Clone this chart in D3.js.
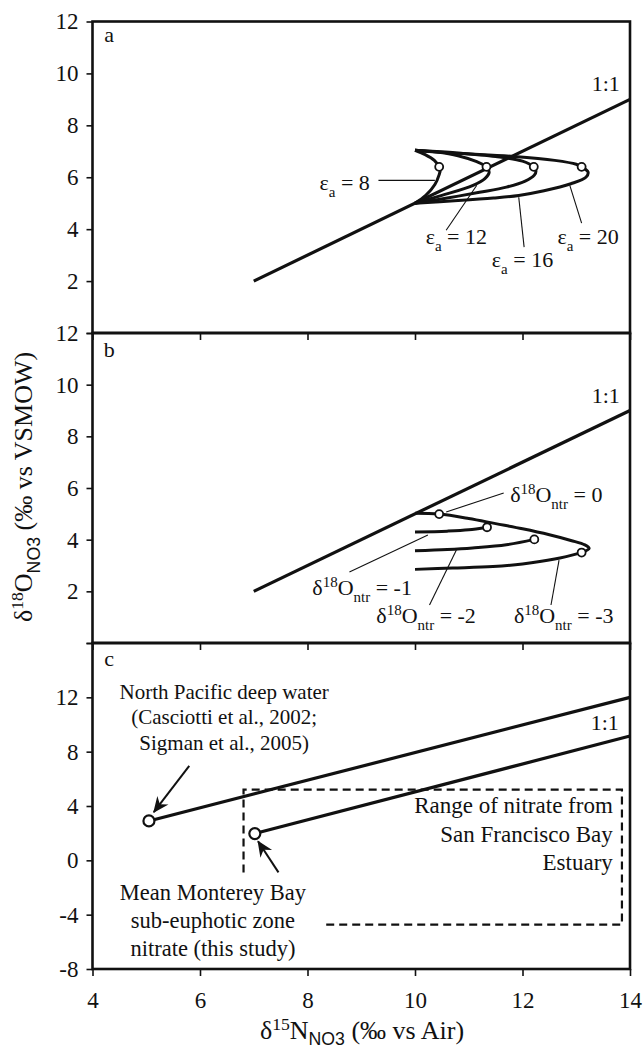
<!DOCTYPE html>
<html>
<head>
<meta charset="utf-8">
<script src="https://cdn.jsdelivr.net/npm/d3@7"></script>
<style>
  body { margin: 0; background: #fff; }
  svg text { font-family: 'Liberation Serif', 'Times New Roman'; fill: #111; }
</style>
</head>
<body>
<div id="chart"></div>
<script>
'use strict';

// ---- data ----
var xTicks = [4, 6, 8, 10, 12, 14];
var yTicksAB = [0, 2, 4, 6, 8, 10, 12];
var yLabelsAB = [2, 4, 6, 8, 10, 12];
var yTicksC = [-8, -4, 0, 4, 8, 12, 16];
var yLabelsC = [-8, -4, 0, 4, 8, 12];

// panel a : assimilation curves for different eps_a
var lineA = [[7, 2], [14, 9]];
var eps8 = [[10, 5], [10.2, 5.3], [10.37, 5.72], [10.45, 6.1], [10.47, 6.3], [10.45, 6.4], [10.36, 6.65], [10.18, 6.88], [10, 7.04]];
var eps12 = [[10, 5], [10.5, 5.3], [11.08, 5.69], [11.3, 5.95], [11.38, 6.2], [11.33, 6.4], [11.15, 6.6], [10.8, 6.83], [10.4, 6.97], [10, 7.04]];
var eps16 = [[10, 5], [10.6, 5.2], [11.2, 5.42], [11.7, 5.62], [12.05, 5.85], [12.22, 6.08], [12.25, 6.25], [12.21, 6.4], [12.0, 6.62], [11.5, 6.8], [10.7, 6.95], [10, 7.04]];
var eps20 = [[10, 5], [10.8, 5.1], [11.46, 5.2], [11.93, 5.3], [12.4, 5.48], [12.9, 5.75], [13.18, 6.0], [13.22, 6.2], [13.1, 6.4], [13.0, 6.5], [12.6, 6.65], [11.84, 6.8], [10.69, 6.93], [10, 7.04]];
var circlesA = [[10.45, 6.4], [11.33, 6.4], [12.21, 6.4], [13.1, 6.4]];

// panel b : different d18O of nitrified nitrate
var lineB = [[7, 2], [14, 9]];
var ntr0 = [[10, 5.02], [10.45, 4.99], [11.0, 4.82], [11.5, 4.62], [12.0, 4.42], [12.5, 4.19], [12.9, 3.97], [13.16, 3.8], [13.24, 3.66], [13.1, 3.5]];
var ntr1 = [[10, 4.3], [10.6, 4.33], [11.0, 4.38], [11.34, 4.48]];
var ntr2 = [[10, 3.57], [10.6, 3.62], [11.07, 3.68], [11.7, 3.8], [12.22, 4.01]];
var ntr3 = [[10, 2.85], [10.7, 2.9], [11.45, 2.96], [12.0, 3.06], [12.6, 3.25], [13.1, 3.5]];
var circlesB = [[10.45, 4.99], [11.34, 4.48], [12.22, 4.01], [13.1, 3.5]];

// panel c : end members
var linePacific = [[5.05, 2.9], [14, 12]];
var lineMonterey = [[7.02, 1.97], [14, 9.15]];
var circlesC = [[5.05, 2.9], [7.02, 1.97]];
var sfBayRange = [[6.81, -0.9], [6.81, 5.2], [13.85, 5.2], [13.85, -4.74], [8.32, -4.74]];

// ---- layout ----
var width = 644, height = 1052;
var x = d3.scaleLinear().domain([4, 14]).range([92.5, 630]);
var yA = d3.scaleLinear().domain([0, 12]).range([333, 21.5]);
var yB = d3.scaleLinear().domain([0, 12]).range([643, 333]);
var yC = d3.scaleLinear().domain([-8, 16]).range([969, 643]);

var svg = d3.select('#chart').append('svg')
  .attr('width', width)
  .attr('height', height);

svg.append('defs').append('marker')
  .attr('id', 'arrow')
  .attr('markerUnits', 'userSpaceOnUse')
  .attr('viewBox', '-16 -8 18 16')
  .attr('refX', 0).attr('refY', 0)
  .attr('markerWidth', 18).attr('markerHeight', 16)
  .attr('orient', 'auto')
  .append('path')
  .attr('d', 'M1,0 L-15,-7 L-10,0 L-15,7 Z')
  .attr('fill', '#111');

var curve = function (y) {
  return d3.line().x(function (d) { return x(d[0]); }).y(function (d) { return y(d[1]); })
    .curve(d3.curveCatmullRom.alpha(0.5));
};
var straight = function (y) {
  return d3.line().x(function (d) { return x(d[0]); }).y(function (d) { return y(d[1]); });
};

// text with sub / superscripts
function richText(g, segs, px, py, anchor, size, subShift) {
  var t = g.append('text').attr('x', px).attr('y', py)
    .attr('text-anchor', anchor).style('font-size', size + 'px');
  var shift = 0;
  segs.forEach(function (s) {
    var target = s.sub ? size * (subShift || 0.32) : (s.sup ? -size * 0.36 : 0);
    var ts = t.append('tspan').attr('dy', target - shift)
      .style('font-size', (s.sub || s.sup) ? (size * 0.68) + 'px' : size + 'px')
      .text(s.t);
    if (s.font) ts.style('font-family', s.font);
    shift = target;
  });
  return t;
}

function panel(y, yTicks, yLabels, showX) {
  var g = svg.append('g');
  var yAxis = d3.axisLeft(y).tickValues(yTicks).tickSize(6).tickPadding(8)
    .tickFormat(function (d) { return yLabels.indexOf(d) >= 0 ? d : ''; });
  var ga = g.append('g').attr('transform', 'translate(' + x.range()[0] + ',0)').call(yAxis);
  var xAxis = d3.axisBottom(x).tickValues(xTicks).tickSize(7).tickPadding(16)
    .tickFormat(function (d) { return showX ? d : ''; });
  var gx = g.append('g').attr('transform', 'translate(0,' + y.range()[0] + ')').call(xAxis);
  [ga, gx].forEach(function (a) {
    a.attr('font-family', null);
    a.select('.domain').remove();
    a.selectAll('line').attr('stroke', '#111').attr('stroke-width', 1.6);
    a.selectAll('text').style('font-size', '23px').attr('fill', '#111');
  });
  g.append('rect')
    .attr('x', x.range()[0]).attr('y', y.range()[1])
    .attr('width', x.range()[1] - x.range()[0])
    .attr('height', y.range()[0] - y.range()[1])
    .attr('fill', 'none').attr('stroke', '#111').attr('stroke-width', 2.6);
  return g;
}

// ---------- panel a ----------
var ga = panel(yA, yTicksAB, yLabelsAB, false);
ga.append('path').attr('d', straight(yA)(lineA)).attr('fill', 'none').attr('stroke', '#111').attr('stroke-width', 3.2);
[eps8, eps12, eps16, eps20].forEach(function (c) {
  ga.append('path').attr('d', curve(yA)(c)).attr('fill', 'none').attr('stroke', '#111')
    .attr('stroke-width', 3).attr('stroke-linejoin', 'round');
});
ga.selectAll('circle.pt').data(circlesA).enter().append('circle')
  .attr('cx', function (d) { return x(d[0]); }).attr('cy', function (d) { return yA(d[1]); })
  .attr('r', 4).attr('fill', '#fff').attr('stroke', '#111').attr('stroke-width', 1.8);

// labels for eps_a curves: [text, text x, text y(center), anchor, leader from, leader to]
var epsLabels = [
  ['8', 9.16, 5.77, 'end', [9.32, 5.88], [10.37, 5.88]],
  ['12', 10.77, 3.69, 'middle', [10.58, 3.96], [11.15, 5.69]],
  ['16', 12.0, 2.81, 'middle', [12.03, 3.31], [11.93, 5.23]],
  ['20', 13.22, 3.69, 'middle', [13.1, 4.23], [12.88, 5.69]]
];
epsLabels.forEach(function (l) {
  richText(ga, [{ t: '\u03b5' }, { t: 'a', sub: true }, { t: ' = ' + l[0] }], x(l[1]), yA(l[2]) + 7, l[3], 22);
  ga.append('line').attr('x1', x(l[4][0])).attr('y1', yA(l[4][1]))
    .attr('x2', x(l[5][0])).attr('y2', yA(l[5][1]))
    .attr('stroke', '#111').attr('stroke-width', 1.1);
});
ga.append('text').attr('x', x(13.55)).attr('y', yA(9.65) + 8).attr('text-anchor', 'middle')
  .style('font-size', '22px').text('1:1');
ga.append('text').attr('x', x(4.31)).attr('y', yA(11.5) + 8).attr('text-anchor', 'middle')
  .style('font-size', '22px').text('a');

// ---------- panel b ----------
var gb = panel(yB, yTicksAB, yLabelsAB, false);
gb.append('path').attr('d', straight(yB)(lineB)).attr('fill', 'none').attr('stroke', '#111').attr('stroke-width', 3.2);
[ntr0, ntr1, ntr2, ntr3].forEach(function (c) {
  gb.append('path').attr('d', curve(yB)(c)).attr('fill', 'none').attr('stroke', '#111')
    .attr('stroke-width', 3).attr('stroke-linejoin', 'round');
});
gb.selectAll('circle.pt').data(circlesB).enter().append('circle')
  .attr('cx', function (d) { return x(d[0]); }).attr('cy', function (d) { return yB(d[1]); })
  .attr('r', 4).attr('fill', '#fff').attr('stroke', '#111').attr('stroke-width', 1.8);

var ntrLabels = [
  ['0', 11.77, 5.73, [11.65, 5.81], [10.58, 5.07]],
  ['-1', 8.09, 2.13, [8.78, 2.75], [10.24, 4.18]],
  ['-2', 9.28, 1.05, [10.27, 1.47], [10.77, 3.6]],
  ['-3', 11.84, 1.05, [12.53, 1.47], [12.68, 3.21]]
];
ntrLabels.forEach(function (l) {
  richText(gb, [{ t: '\u03b4' }, { t: '18', sup: true }, { t: 'O' }, { t: 'ntr', sub: true }, { t: ' = ' + l[0] }],
    x(l[1]), yB(l[2]) + 7, 'start', 22);
  gb.append('line').attr('x1', x(l[3][0])).attr('y1', yB(l[3][1]))
    .attr('x2', x(l[4][0])).attr('y2', yB(l[4][1]))
    .attr('stroke', '#111').attr('stroke-width', 1.1);
});
gb.append('text').attr('x', x(13.55)).attr('y', yB(9.6) + 8).attr('text-anchor', 'middle')
  .style('font-size', '22px').text('1:1');
gb.append('text').attr('x', x(4.31)).attr('y', yB(11.4) + 8).attr('text-anchor', 'middle')
  .style('font-size', '22px').text('b');

// ---------- panel c ----------
var gc = panel(yC, yTicksC, yLabelsC, true);
gc.append('path').attr('d', straight(yC)(sfBayRange)).attr('fill', 'none').attr('stroke', '#111')
  .attr('stroke-width', 2.2).attr('stroke-dasharray', '8,5');
[linePacific, lineMonterey].forEach(function (c) {
  gc.append('path').attr('d', straight(yC)(c)).attr('fill', 'none').attr('stroke', '#111').attr('stroke-width', 3.2);
});
gc.selectAll('circle.pt').data(circlesC).enter().append('circle')
  .attr('cx', function (d) { return x(d[0]); }).attr('cy', function (d) { return yC(d[1]); })
  .attr('r', 5.5).attr('fill', '#fff').attr('stroke', '#111').attr('stroke-width', 2.2);

var arrows = [[[5.8, 6.96], [5.14, 3.55]], [[7.46, -0.89], [7.08, 1.4]]];
arrows.forEach(function (a) {
  gc.append('line').attr('x1', x(a[0][0])).attr('y1', yC(a[0][1]))
    .attr('x2', x(a[1][0])).attr('y2', yC(a[1][1]))
    .attr('stroke', '#111').attr('stroke-width', 2).attr('marker-end', 'url(#arrow)');
});

var pacificText = ['North Pacific deep water', '(Casciotti et al., 2002;', 'Sigman et al., 2005)'];
var pacificY = [12.37, 10.52, 8.67];
pacificText.forEach(function (t, i) {
  gc.append('text').attr('x', x(6.45)).attr('y', yC(pacificY[i]) + 7).attr('text-anchor', 'middle')
    .style('font-size', '21px').text(t);
});
var montereyText = ['Mean Monterey Bay', 'sub-euphotic zone', 'nitrate (this study)'];
var montereyY = [-2.37, -4.44, -6.52];
montereyText.forEach(function (t, i) {
  gc.append('text').attr('x', x(6.24)).attr('y', yC(montereyY[i]) + 7).attr('text-anchor', 'middle')
    .style('font-size', '22.5px').text(t);
});
var sfText = ['Range of nitrate from', 'San Francisco Bay', 'Estuary'];
var sfY = [4.0, 1.85, -0.22];
sfText.forEach(function (t, i) {
  gc.append('text').attr('x', x(13.68)).attr('y', yC(sfY[i]) + 7).attr('text-anchor', 'end')
    .style('font-size', '23px').text(t);
});
gc.append('text').attr('x', x(13.53)).attr('y', yC(10.15) + 8).attr('text-anchor', 'middle')
  .style('font-size', '22px').text('1:1');
gc.append('text').attr('x', x(4.31)).attr('y', yC(14.9) + 8).attr('text-anchor', 'middle')
  .style('font-size', '22px').text('c');

// ---------- axis titles ----------
richText(svg, [{ t: '\u03b4' }, { t: '15', sup: true }, { t: 'N' }, { t: 'NO3', sub: true, font: "'Liberation Sans'" },
  { t: ' (\u2030 vs Air)' }], 362, 1039, 'middle', 26, 0.24);
richText(svg, [{ t: '\u03b4' }, { t: '18', sup: true }, { t: 'O' }, { t: 'NO3', sub: true, font: "'Liberation Sans'" },
  { t: ' (\u2030 vs VSMOW)' }], 0, 0, 'middle', 26)
  .attr('transform', 'translate(32,487) rotate(-90)');
</script>
</body>
</html>
